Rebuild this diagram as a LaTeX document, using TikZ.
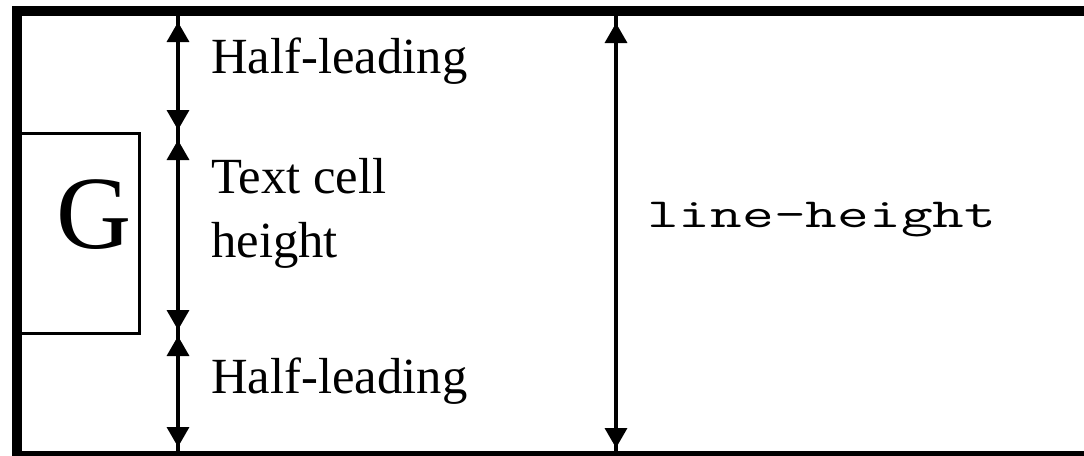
\documentclass[tikz,border=0pt]{standalone}
\usepackage{fontspec}
\setmainfont{Liberation Serif}
\newfontfamily\lhfont[FakeStretch=1.49]{Latin Modern Mono}
\usetikzlibrary{arrows.meta,positioning}
\tikzset{
	px/.style={x=0.75pt,y=-0.75pt},
	frame/.style={line width=7.5pt},
	cellbox/.style={draw,line width=2.25pt,inner sep=0pt,outer sep=0pt,
		minimum width=89.25pt,minimum height=150pt},
	stem/.style={line width=2.6pt},
	dim/.style={stem,{Triangle[length=15pt,width=16.5pt]}-{Triangle[length=15pt,width=16.5pt]}},
	lbl/.style={inner sep=0pt,anchor=base west,align=left,
		font=\fontsize{38}{48}\selectfont},
}

\begin{document}
\begin{tikzpicture}[px]
  \path[use as bounding box,clip] (0,0) rectangle (1084,455);
  \draw[frame] (17,11) rectangle (1100,456);
  % glyph box
  \node[cellbox] (cell) at (79.5,233) {};
  \node[inner sep=0pt,anchor=base,font=\fontsize{78}{78}\selectfont] (G) at (94,248) {G};
  % marks on the left measure
  \foreach \n/\y in {t/16,a/22,b/130,c/140,d/330,e/336,f/447,g/451}
    \coordinate (m\n) at (178,\y);
  \coordinate (lt) at (616,16);
  \coordinate (la) at (616,23);
  \coordinate (lb) at (616,448);
  \coordinate (lg) at (616,451);
  \draw[stem] (mt) -- (mg);
  \draw[dim] (ma) -- (mb);
  \draw[dim] (mc) -- (md);
  \draw[dim] (me) -- (mf);
  \draw[stem] (lt) -- (lg);
  \draw[dim] (la) -- (lb);
  % labels (a two-line node sits on its last baseline)
  \node[lbl] (hlTop) at (211,73) {Half-leading};
  \node[lbl] (txt) at (211,257) {Text cell\\height};
  \node[lbl] (hlBot) at (211,393) {Half-leading};
  \node[lbl,font=\lhfont\fontsize{31}{31}\selectfont] (lh) at (647,227) {line-height};
\end{tikzpicture}
\end{document}
